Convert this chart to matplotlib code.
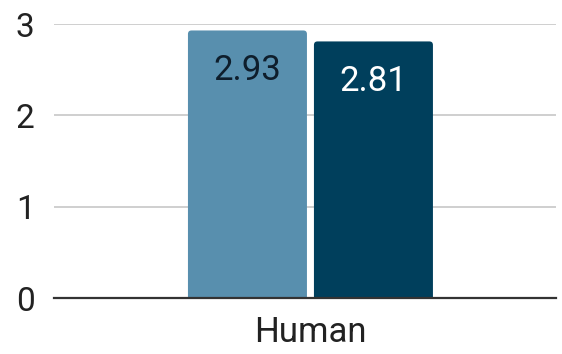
import matplotlib
matplotlib.use("Agg")
import matplotlib.pyplot as plt
from matplotlib.patches import FancyBboxPatch

categories = ["Human"]
series_names = ["Series A", "Series B"]
series_values = [[2.93], [2.81]]
series_colors = ["#588fae", "#003f5c"]
label_colors = ["#0e1e2c", "#ffffff"]
yticks = [0, 1, 2, 3]

plt.rcParams['font.family'] = ['Roboto', 'DejaVu Sans']

fig = plt.figure(figsize=(5.62, 3.54), dpi=100)
ax = fig.add_axes([0.0961, 0.158, 0.893, 0.774])

bar_w = 0.4
gap = 0.0235
offsets = [-(bar_w / 2 + gap / 2), (bar_w / 2 + gap / 2)]

for i, (vals, col, lc) in enumerate(zip(series_values, series_colors, label_colors)):
    xs = [j + offsets[i] for j in range(len(categories))]
    bars = ax.bar(xs, vals, width=bar_w, color=col)
    for rect, v in zip(bars, vals):
        x0, w, h = rect.get_x(), rect.get_width(), rect.get_height()
        rect.set_visible(False)
        p = FancyBboxPatch((x0, -0.1), w, h + 0.1,
                           boxstyle="round,pad=0,rounding_size=0.012",
                           mutation_aspect=3.27, facecolor=col, edgecolor='none',
                           zorder=3)
        ax.add_patch(p)
        ax.annotate(f"{v:.2f}", (x0 + w / 2, h), xytext=(0, -26.5),
                    textcoords='offset points', ha='center', va='center_baseline',
                    fontsize=25, color=lc, zorder=4)

ax.set_xlim(-0.862, 0.825)
ax.set_ylim(0, 3)
ax.set_yticks(yticks)
ax.set_yticklabels([str(t) for t in yticks])
ax.set_xticks(range(len(categories)))
ax.set_xticklabels(categories)

ax.grid(axis='y', color='#cccccc', linewidth=1.3, zorder=0)
ax.set_axisbelow(True)
for s in ['top', 'right', 'left']:
    ax.spines[s].set_visible(False)
ax.spines['bottom'].set_color('#333333')
ax.spines['bottom'].set_linewidth(1.6)
ax.spines['bottom'].set_zorder(5)
ax.tick_params(axis='y', length=0, pad=14, labelsize=24, labelcolor='#222222')
ax.tick_params(axis='x', length=0, pad=13, labelsize=25, labelcolor='#222222')

fig.savefig("out.png", dpi=100)
